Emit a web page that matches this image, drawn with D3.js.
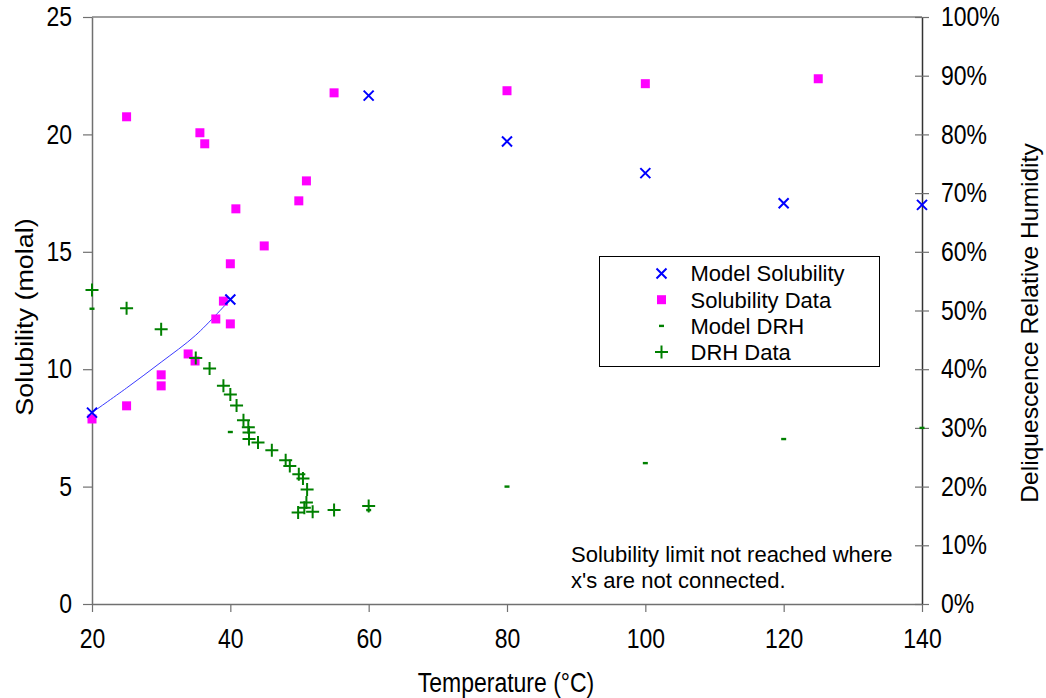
<!DOCTYPE html>
<html>
<head>
<meta charset="utf-8">
<script src="https://cdn.jsdelivr.net/npm/d3@7"></script>
<style>
  body { margin: 0; background: #fff; }
  svg { display: block; font-family: "Liberation Sans", Arial, sans-serif; }
</style>
</head>
<body>
<svg id="chart"></svg>
<script>
// model solubility (molal) – crosses
const modelSolT = [20, 40, 60, 80, 100, 120, 140];
const modelSol = [8.15, 12.97, 21.65, 19.7, 18.35, 17.07, 17.0];
// connected part of the model (where the solubility limit is reached)
const modelCurveT = [20, 25, 30, 35, 40];
const modelCurve = [8.15, 9.2, 10.3, 11.45, 12.97];

// measured solubility (molal) – squares
const solT = [20, 25, 25, 30, 30, 33.9, 34.9, 35.6, 36.3, 37.9, 39, 40, 40, 40.8, 44.9, 49.9, 51, 55, 80, 100, 125];
const sol = [7.88, 20.75, 8.44, 9.76, 9.29, 10.65, 10.35, 20.07, 19.6, 12.14, 12.9, 11.93, 14.49, 16.83, 15.25, 17.17, 18.02, 21.77, 21.86, 22.16, 22.37];

// model DRH (%) – dashes
const drhModelT = [20, 40, 60, 80, 100, 120, 140];
const drhModel = [50.3, 29.3, 16.0, 20.0, 24.0, 28.1, 30.0];

// DRH data (%) – plus signs
const drhT = [20, 25, 30, 35, 37, 39, 40, 40.9, 41.9, 42.6, 42.7, 42.7, 44, 46, 48, 48.6, 49.9, 50.5, 51.1, 51, 50.7, 49.8, 51.9, 55, 60];
const drh = [53.5, 50.4, 46.8, 41.9, 40.1, 37.2, 35.7, 33.8, 31.3, 30.1, 29.2, 28.1, 27.5, 26.2, 24.5, 23.5, 22.1, 21.4, 19.5, 17.3, 16.4, 15.6, 15.7, 16.0, 16.7];

const xTicks = [20, 40, 60, 80, 100, 120, 140];
const yTicks = [0, 5, 10, 15, 20, 25];
const y2Ticks = [0, 10, 20, 30, 40, 50, 60, 70, 80, 90, 100];

const legendItems = ['Model Solubility', 'Solubility Data', 'Model DRH', 'DRH Data'];
const note = ['Solubility limit not reached where', "x's are not connected."];

const W = 1046, H = 698;
const margin = { top: 17, right: 124, bottom: 94, left: 92 };
const iw = W - margin.left - margin.right;
const ih = H - margin.top - margin.bottom;
const stretch = 1.17; // axis text in the original is drawn a bit taller than wide

const svg = d3.select('#chart').attr('width', W).attr('height', H);
const chart = svg.append('g').attr('transform', `translate(${margin.left}, ${margin.top})`);

const x = d3.scaleLinear().domain([20, 140]).range([0, iw]);
const y = d3.scaleLinear().domain([0, 25]).range([ih, 0]);
const y2 = d3.scaleLinear().domain([0, 100]).range([ih, 0]);

const BLUE = '#0000ff', MAGENTA = '#ff00ff', GREEN = '#008000';
const crossPath = s => `M${-s},${-s}L${s},${s}M${-s},${s}L${s},${-s}`;
const plusPath = s => `M${-s},0H${s}M0,${-s}V${s}`;

// top frame line
chart.append('line')
    .attr('x1', 0).attr('x2', iw).attr('y1', 0).attr('y2', 0)
    .attr('stroke', '#808080').attr('stroke-width', 1.5);

// axes
const fmtPct = d => d + '%';
const xAxis = chart.append('g')
    .attr('transform', `translate(0, ${ih})`)
    .call(d3.axisBottom(x).tickValues(xTicks).tickSize(8).tickPadding(17).tickSizeOuter(0));
const yAxis = chart.append('g')
    .call(d3.axisLeft(y).tickValues(yTicks).tickSize(9).tickPadding(11).tickSizeOuter(0));
const y2Axis = chart.append('g')
    .attr('transform', `translate(${iw}, 0)`)
    .call(d3.axisRight(y2).tickValues(y2Ticks).tickFormat(fmtPct).tickSize(7).tickPadding(12).tickSizeOuter(0));
y2Axis.selectAll('.tick line').attr('x1', -7);

[xAxis, yAxis].forEach(g => {
    g.select('.domain').attr('stroke', '#707070').attr('stroke-width', 1.5);
    g.selectAll('.tick line').attr('stroke', '#707070').attr('stroke-width', 1.2);
});
y2Axis.select('.domain').attr('stroke', '#333').attr('stroke-width', 1.5);
y2Axis.selectAll('.tick line').attr('stroke', '#707070').attr('stroke-width', 1.2);
[xAxis, yAxis, y2Axis].forEach(g => {
    g.attr('font-family', null).attr('font-size', null);
    g.selectAll('text')
        .attr('font-size', '23px').attr('fill', '#000')
        .attr('transform', `scale(1, ${stretch})`);
});
xAxis.selectAll('text').attr('y', 21.3);

// model curve where the limit is reached
const line = d3.line()
    .x((d, i) => x(modelCurveT[i]))
    .y(d => y(d))
    .curve(d3.curveCatmullRom);
chart.append('path')
    .datum(modelCurve)
    .attr('d', line)
    .attr('fill', 'none')
    .attr('stroke', '#3a3aff')
    .attr('stroke-width', 1);

// solubility data squares
chart.append('g').selectAll('rect')
    .data(sol).enter()
    .append('rect')
    .attr('x', (d, i) => x(solT[i]) - 4.5)
    .attr('y', d => y(d) - 4.5)
    .attr('width', 9).attr('height', 9)
    .attr('fill', MAGENTA);

// DRH data plus signs
chart.append('g').selectAll('path')
    .data(drh).enter()
    .append('path')
    .attr('transform', (d, i) => `translate(${x(drhT[i])}, ${y2(d)})`)
    .attr('d', plusPath(6.5))
    .attr('stroke', GREEN).attr('stroke-width', 2).attr('fill', 'none');

// model DRH dashes
chart.append('g').selectAll('rect')
    .data(drhModel).enter()
    .append('rect')
    .attr('x', (d, i) => x(drhModelT[i]) - 2.5)
    .attr('y', d => y2(d) - 1.2)
    .attr('width', 5).attr('height', 2.4)
    .attr('fill', GREEN);

// model solubility crosses
chart.append('g').selectAll('path')
    .data(modelSol).enter()
    .append('path')
    .attr('transform', (d, i) => `translate(${x(modelSolT[i])}, ${y(d)})`)
    .attr('d', crossPath(5))
    .attr('stroke', BLUE).attr('stroke-width', 2).attr('fill', 'none');

// axis titles
svg.append('text')
    .attr('transform', `translate(506, 692) scale(1, ${stretch})`)
    .attr('text-anchor', 'middle').attr('font-size', '23px')
    .text('Temperature (°C)');
svg.append('text')
    .attr('transform', `translate(33, 317) rotate(-90) scale(${stretch}, 1)`)
    .attr('text-anchor', 'middle').attr('font-size', '23px')
    .text('Solubility (molal)');
svg.append('text')
    .attr('transform', 'translate(1038, 323) rotate(-90) scale(1.07, 1)')
    .attr('text-anchor', 'middle').attr('font-size', '23px')
    .text('Deliquescence Relative Humidity');

// legend
const legend = svg.append('g').attr('transform', 'translate(599.5, 256.5)');
legend.append('rect')
    .attr('width', 280).attr('height', 110)
    .attr('fill', '#fff').attr('stroke', '#000').attr('stroke-width', 1);
const rows = legend.selectAll('g.row')
    .data(legendItems).enter()
    .append('g')
    .attr('class', 'row')
    .attr('transform', (d, i) => `translate(62, ${17 + i * 26.2})`);
rows.append('text')
    .attr('x', 29).attr('dy', '0.36em')
    .attr('font-size', '22px')
    .text(d => d);
rows.filter((d, i) => i === 0).append('path')
    .attr('d', crossPath(5)).attr('stroke', BLUE).attr('stroke-width', 2);
rows.filter((d, i) => i === 1).append('rect')
    .attr('x', -4.5).attr('y', -4.5).attr('width', 9).attr('height', 9).attr('fill', MAGENTA);
rows.filter((d, i) => i === 2).append('rect')
    .attr('x', -2.5).attr('y', -1.2).attr('width', 5).attr('height', 2.4).attr('fill', GREEN);
rows.filter((d, i) => i === 3).append('path')
    .attr('d', plusPath(6.5)).attr('stroke', GREEN).attr('stroke-width', 2);

// note
svg.append('g').selectAll('text')
    .data(note).enter()
    .append('text')
    .attr('x', 571)
    .attr('y', (d, i) => 562 + i * 26)
    .attr('font-size', '22px')
    .text(d => d);
</script>
</body>
</html>
